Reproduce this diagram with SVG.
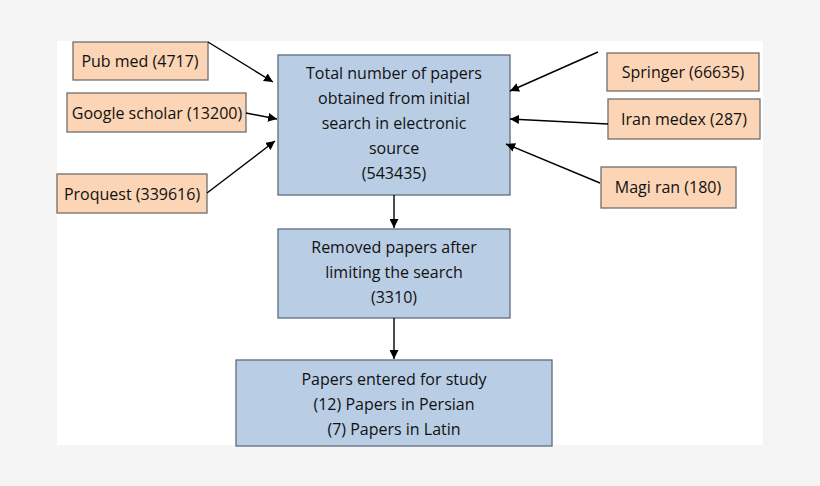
<svg xmlns="http://www.w3.org/2000/svg" width="820" height="486" viewBox="0 0 820 486">
<defs>
<marker id="ah" viewBox="0 0 10 10" refX="10" refY="5" markerWidth="9" markerHeight="9" markerUnits="userSpaceOnUse" orient="auto"><path d="M0,0L10,5L0,10z" fill="#000"/></marker>
<style>
.b{fill:#b9cde5;stroke:#5f6b7a;stroke-width:1.3}
.o{fill:#fbd5b5;stroke:#6f6f6f;stroke-width:1.3}
text{font-family:"Open Sans","Liberation Sans",sans-serif;font-size:16px;fill:#111;text-anchor:middle}
.c line{stroke:#000;stroke-width:1.4;marker-end:url(#ah)}
</style>
</defs>
<rect width="820" height="486" fill="#f5f5f5"/>
<rect x="57" y="41" width="706" height="404" fill="#fff"/>
<g id="pubmed"><rect class="o" x="73" y="42" width="135" height="38"/><text x="140" y="67">Pub med (4717)</text></g>
<g id="google"><rect class="o" x="67" y="93" width="179" height="39"/><text x="157" y="119">Google scholar (13200)</text></g>
<g id="proquest"><rect class="o" x="57" y="174" width="150" height="39"/><text x="132" y="200">Proquest (339616)</text></g>
<g id="springer"><rect class="o" x="607" y="53" width="152" height="38"/><text x="683" y="78">Springer (66635)</text></g>
<g id="iranmedex"><rect class="o" x="608" y="99" width="152" height="40"/><text x="684" y="125">Iran medex (287)</text></g>
<g id="magiran"><rect class="o" x="601" y="167" width="135" height="41"/><text x="668" y="193">Magi ran (180)</text></g>
<g id="total"><rect class="b" x="278" y="55" width="232" height="140"/>
<text x="394" y="79">Total number of papers</text><text x="394" y="104">obtained from initial</text><text x="394" y="129">search in electronic</text><text x="394" y="154">source</text><text x="394" y="179">(543435)</text></g>
<g id="removed"><rect class="b" x="278" y="229" width="232" height="89"/>
<text x="394" y="253">Removed papers after</text><text x="394" y="278">limiting the search</text><text x="394" y="303">(3310)</text></g>
<g id="entered"><rect class="b" x="236" y="360" width="316" height="86"/>
<text x="394" y="385">Papers entered for study</text><text x="394" y="410">(12) Papers in Persian</text><text x="394" y="435">(7) Papers in Latin</text></g>
<g class="c" id="connectors">
<line x1="208" y1="42" x2="273" y2="82"/>
<line x1="246" y1="113" x2="277" y2="119"/>
<line x1="207" y1="193" x2="275" y2="141"/>
<line x1="598" y1="52" x2="510" y2="91"/>
<line x1="608" y1="124" x2="510" y2="119"/>
<line x1="600" y1="183" x2="506" y2="144"/>
<line x1="394" y1="195" x2="394" y2="228"/>
<line x1="394" y1="318" x2="394" y2="359"/>
</g>
</svg>
